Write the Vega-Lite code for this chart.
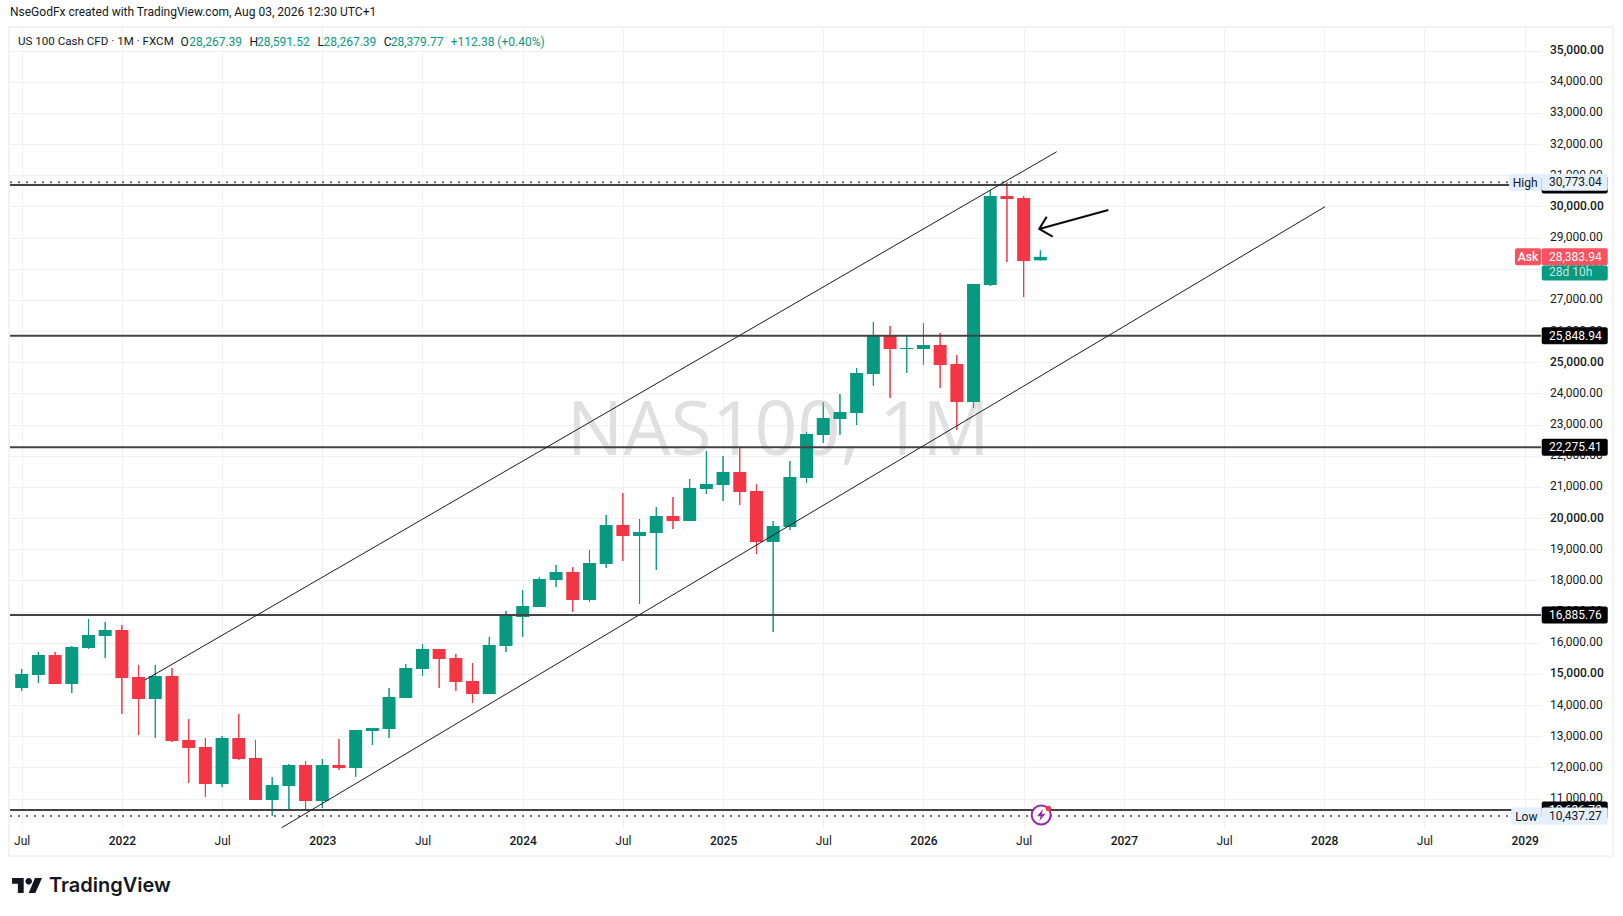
{
  "$schema": "https://vega.github.io/schema/vega-lite/v6.json",
  "width": 1531,
  "height": 800,
  "autosize": "none",
  "padding": {"left": 10, "top": 28, "right": 82, "bottom": 88},
  "background": "#ffffff",
  "title": {"text": "NseGodFx created with TradingView.com, Aug 03, 2026 12:30 UTC+1", "anchor": "start", "frame": "group", "offset": 7, "dx": 0, "font": "Roboto", "fontSize": 12, "fontWeight": "normal", "color": "#131722"},
  "config": {"view": {"stroke": null}, "axis": {"title": null}},
  "datasets": {
    "candles": [
      {"month": "2021-07", "n": 0, "open": 14548, "high": 15157, "low": 14452, "close": 14997},
      {"month": "2021-08", "n": 1, "open": 14965, "high": 15703, "low": 14708, "close": 15606},
      {"month": "2021-09", "n": 2, "open": 15606, "high": 15703, "low": 14676, "close": 14676},
      {"month": "2021-10", "n": 3, "open": 14676, "high": 15895, "low": 14387, "close": 15863},
      {"month": "2021-11", "n": 4, "open": 15831, "high": 16761, "low": 15799, "close": 16248},
      {"month": "2021-12", "n": 5, "open": 16216, "high": 16665, "low": 15510, "close": 16409},
      {"month": "2022-01", "n": 6, "open": 16409, "high": 16569, "low": 13714, "close": 14869},
      {"month": "2022-02", "n": 7, "open": 14901, "high": 15286, "low": 13040, "close": 14195},
      {"month": "2022-03", "n": 8, "open": 14195, "high": 15286, "low": 12944, "close": 14933},
      {"month": "2022-04", "n": 9, "open": 14933, "high": 15189, "low": 12815, "close": 12847},
      {"month": "2022-05", "n": 10, "open": 12880, "high": 13553, "low": 11500, "close": 12623},
      {"month": "2022-06", "n": 11, "open": 12655, "high": 12944, "low": 11051, "close": 11468},
      {"month": "2022-07", "n": 12, "open": 11468, "high": 13008, "low": 11372, "close": 12944},
      {"month": "2022-08", "n": 13, "open": 12944, "high": 13714, "low": 12238, "close": 12270},
      {"month": "2022-09", "n": 14, "open": 12302, "high": 12880, "low": 10955, "close": 10955},
      {"month": "2022-10", "n": 15, "open": 10955, "high": 11692, "low": 10441, "close": 11436},
      {"month": "2022-11", "n": 16, "open": 11404, "high": 12110, "low": 10602, "close": 12078},
      {"month": "2022-12", "n": 17, "open": 12078, "high": 12206, "low": 10634, "close": 10923},
      {"month": "2023-01", "n": 18, "open": 10923, "high": 12270, "low": 10698, "close": 12078},
      {"month": "2023-02", "n": 19, "open": 12078, "high": 12912, "low": 11917, "close": 11981},
      {"month": "2023-03", "n": 20, "open": 11981, "high": 13200, "low": 11692, "close": 13200},
      {"month": "2023-04", "n": 21, "open": 13168, "high": 13264, "low": 12719, "close": 13264},
      {"month": "2023-05", "n": 22, "open": 13232, "high": 14548, "low": 12944, "close": 14259},
      {"month": "2023-06", "n": 23, "open": 14227, "high": 15318, "low": 14227, "close": 15189},
      {"month": "2023-07", "n": 24, "open": 15157, "high": 15959, "low": 14933, "close": 15799},
      {"month": "2023-08", "n": 25, "open": 15799, "high": 15799, "low": 14548, "close": 15478},
      {"month": "2023-09", "n": 26, "open": 15510, "high": 15639, "low": 14452, "close": 14740},
      {"month": "2023-10", "n": 27, "open": 14772, "high": 15350, "low": 14067, "close": 14355},
      {"month": "2023-11", "n": 28, "open": 14355, "high": 16184, "low": 14355, "close": 15927},
      {"month": "2023-12", "n": 29, "open": 15895, "high": 17018, "low": 15702, "close": 16857},
      {"month": "2024-01", "n": 30, "open": 16825, "high": 17691, "low": 16184, "close": 17178},
      {"month": "2024-02", "n": 31, "open": 17146, "high": 18108, "low": 17146, "close": 18044},
      {"month": "2024-03", "n": 32, "open": 18012, "high": 18493, "low": 17788, "close": 18269},
      {"month": "2024-04", "n": 33, "open": 18269, "high": 18429, "low": 16986, "close": 17371},
      {"month": "2024-05", "n": 34, "open": 17371, "high": 18975, "low": 17306, "close": 18558},
      {"month": "2024-06", "n": 35, "open": 18526, "high": 20098, "low": 18397, "close": 19777},
      {"month": "2024-07", "n": 36, "open": 19777, "high": 20803, "low": 18622, "close": 19424},
      {"month": "2024-08", "n": 37, "open": 19424, "high": 19969, "low": 17242, "close": 19552},
      {"month": "2024-09", "n": 38, "open": 19520, "high": 20354, "low": 18333, "close": 20065},
      {"month": "2024-10", "n": 39, "open": 20065, "high": 20675, "low": 19648, "close": 19905},
      {"month": "2024-11", "n": 40, "open": 19905, "high": 21253, "low": 19905, "close": 20964},
      {"month": "2024-12", "n": 41, "open": 20932, "high": 22151, "low": 20771, "close": 21092},
      {"month": "2025-01", "n": 42, "open": 21060, "high": 21990, "low": 20547, "close": 21477},
      {"month": "2025-02", "n": 43, "open": 21477, "high": 22247, "low": 20418, "close": 20835},
      {"month": "2025-03", "n": 44, "open": 20868, "high": 21092, "low": 18846, "close": 19231},
      {"month": "2025-04", "n": 45, "open": 19231, "high": 19905, "low": 16344, "close": 19745},
      {"month": "2025-05", "n": 46, "open": 19713, "high": 21830, "low": 19616, "close": 21317},
      {"month": "2025-06", "n": 47, "open": 21285, "high": 22760, "low": 21124, "close": 22696},
      {"month": "2025-07", "n": 48, "open": 22665, "high": 23724, "low": 22408, "close": 23210},
      {"month": "2025-08", "n": 49, "open": 23178, "high": 23980, "low": 22665, "close": 23402},
      {"month": "2025-09", "n": 50, "open": 23370, "high": 24814, "low": 22985, "close": 24654},
      {"month": "2025-10", "n": 51, "open": 24622, "high": 26290, "low": 24237, "close": 25873},
      {"month": "2025-11", "n": 52, "open": 25873, "high": 26162, "low": 23852, "close": 25424},
      {"month": "2025-12", "n": 53, "open": 25424, "high": 25841, "low": 24654, "close": 25456},
      {"month": "2026-01", "n": 54, "open": 25424, "high": 26258, "low": 24910, "close": 25552},
      {"month": "2026-02", "n": 55, "open": 25552, "high": 25937, "low": 24172, "close": 24910},
      {"month": "2026-03", "n": 56, "open": 24942, "high": 25231, "low": 22825, "close": 23723},
      {"month": "2026-04", "n": 57, "open": 23723, "high": 27509, "low": 23531, "close": 27509},
      {"month": "2026-05", "n": 58, "open": 27477, "high": 30525, "low": 27445, "close": 30332},
      {"month": "2026-06", "n": 59, "open": 30332, "high": 30773.04, "low": 28215, "close": 30236},
      {"month": "2026-07", "n": 60, "open": 30268, "high": 30332, "low": 27092, "close": 28247},
      {"month": "2026-08", "n": 61, "open": 28267.39, "high": 28591.52, "low": 28267.39, "close": 28379.77}
    ],
    "channel": [
      {"line": "upper", "n": 7.38, "price": 14804},
      {"line": "upper", "n": 61.98, "price": 31753},
      {"line": "lower", "n": 15.57, "price": 10066},
      {"line": "lower", "n": 78.05, "price": 29989}
    ],
    "arrow": [
      {"part": "shaft", "step": 1, "n": 65.07, "price": 29883},
      {"part": "shaft", "step": 2, "n": 60.93, "price": 29274},
      {"part": "head", "step": 1, "n": 61.38, "price": 29668},
      {"part": "head", "step": 2, "n": 60.93, "price": 29274},
      {"part": "head", "step": 3, "n": 61.74, "price": 29026}
    ],
    "levels": [
      {"price": 30685},
      {"price": 25848.94},
      {"price": 22275.41},
      {"price": 16885.76},
      {"price": 10636.72}
    ],
    "extremes": [
      {"name": "High", "price": 30773.04},
      {"name": "Low", "price": 10437.27}
    ],
    "tags": [
      {"kind": "level", "price": 30685, "label": "30,685.00"},
      {"kind": "level", "price": 25848.94, "label": "25,848.94"},
      {"kind": "level", "price": 22275.41, "label": "22,275.41"},
      {"kind": "level", "price": 16885.76, "label": "16,885.76"},
      {"kind": "level", "price": 10636.72, "label": "10,636.72"},
      {"kind": "extreme", "price": 30773.04, "label": "30,773.04"},
      {"kind": "extreme", "price": 10437.27, "label": "10,437.27"},
      {"kind": "ask", "price": 28383.94, "label": "28,383.94"}
    ],
    "legend": [
      {"part": "name", "n": -0.22, "text": "US 100 Cash CFD · 1M · FXCM"},
      {"part": "ohlc", "n": 9.51, "text": "O"},
      {"part": "value", "n": 10.04, "text": "28,267.39"},
      {"part": "ohlc", "n": 13.64, "text": "H"},
      {"part": "value", "n": 14.09, "text": "28,591.52"},
      {"part": "ohlc", "n": 17.72, "text": "L"},
      {"part": "value", "n": 18.08, "text": "28,267.39"},
      {"part": "ohlc", "n": 21.68, "text": "C"},
      {"part": "value", "n": 22.1, "text": "28,379.77"},
      {"part": "value", "n": 25.69, "text": "+112.38 (+0.40%)"}
    ]
  },
  "layer": [
    {
      "data": {"name": "candles"},
      "mark": {"type": "rule", "strokeWidth": 1},
      "encoding": {
        "x": {
          "field": "n",
          "type": "quantitative",
          "scale": {"domain": [-0.7, 90.98], "nice": false, "zero": false, "padding": 0},
          "axis": {
            "title": null,
            "values": [0, 6, 12, 18, 24, 30, 36, 42, 48, 54, 60, 66, 72, 78, 84, 90],
            "tickCount": 40,
            "labelExpr": "datum.value % 12 == 0 ? 'Jul' : '' + (2022 + (datum.value - 6) / 12)",
            "labelFontWeight": {"condition": {"test": "datum.value % 12 == 6", "value": 500}, "value": "normal"},
            "labelFont": "Roboto",
            "labelFontSize": 12,
            "labelColor": "#131722",
            "labelPadding": 7,
            "labelOverlap": false,
            "labelBound": false,
            "labelFlush": false,
            "domain": false,
            "ticks": false,
            "tickSize": 0,
            "grid": true,
            "gridColor": "#f0f0f0",
            "gridWidth": 1
          }
        },
        "y": {
          "field": "low",
          "type": "quantitative",
          "scale": {"domain": [10056, 35722], "nice": false, "zero": false},
          "axis": {
            "title": null,
            "orient": "right",
            "values": [11000, 12000, 13000, 14000, 15000, 16000, 17000, 18000, 19000, 20000, 21000, 22000, 23000, 24000, 25000, 26000, 27000, 28000, 29000, 30000, 31000, 32000, 33000, 34000, 35000],
            "tickCount": 40,
            "format": ",.2f",
            "labelFontWeight": {"condition": {"test": "datum.value % 5000 == 0", "value": 500}, "value": "normal"},
            "labelFont": "Roboto",
            "labelFontSize": 12,
            "labelColor": "#131722",
            "labelAlign": "left",
            "labelPadding": 8.5,
            "labelOffset": -1,
            "labelOverlap": false,
            "labelBound": false,
            "labelFlush": false,
            "domain": false,
            "ticks": false,
            "tickSize": 0,
            "grid": true,
            "gridColor": "#f0f0f0",
            "gridWidth": 1
          }
        },
        "y2": {"field": "high"},
        "color": {"condition": {"test": "datum.close >= datum.open", "value": "#089981"}, "value": "#f23645"}
      }
    },
    {
      "data": {"values": [{"part": "frame"}]},
      "mark": {"type": "rect", "fill": null, "stroke": "#f3f3f3", "strokeWidth": 2},
      "encoding": {
        "x": {"datum": -0.76, "type": "quantitative"},
        "x2": {"datum": 95.3},
        "y": {"datum": 35757, "type": "quantitative"},
        "y2": {"datum": 9147}
      }
    },
    {
      "data": {"values": [{"text": "NAS100, 1M"}]},
      "mark": {"type": "text", "font": "Open Sans", "fontSize": 75, "color": "#e0e0e0", "align": "center", "baseline": "alphabetic"},
      "encoding": {
        "x": {"datum": 45.3, "type": "quantitative"},
        "y": {"datum": 22023, "type": "quantitative"},
        "text": {"field": "text"}
      }
    },
    {
      "data": {"name": "candles"},
      "mark": {"type": "rule", "strokeWidth": 1},
      "encoding": {
        "x": {"field": "n", "type": "quantitative"},
        "y": {"field": "low", "type": "quantitative"},
        "y2": {"field": "high"},
        "color": {"condition": {"test": "datum.close >= datum.open", "value": "#089981"}, "value": "#f23645"}
      }
    },
    {
      "data": {"name": "candles"},
      "mark": {"type": "bar", "size": 13},
      "encoding": {
        "x": {"field": "n", "type": "quantitative"},
        "y": {"field": "open", "type": "quantitative"},
        "y2": {"field": "close"},
        "color": {"condition": {"test": "datum.close >= datum.open", "value": "#089981"}, "value": "#f23645"}
      }
    },
    {
      "data": {"name": "levels"},
      "mark": {"type": "rule", "color": "#434343", "strokeWidth": 2},
      "encoding": {
        "y": {"field": "price", "type": "quantitative"}
      }
    },
    {
      "data": {"name": "extremes"},
      "mark": {"type": "rule", "color": "#707070", "strokeWidth": 2, "strokeDash": [2, 6]},
      "encoding": {
        "x": {"datum": -0.7, "type": "quantitative"},
        "x2": {"datum": 89},
        "y": {"field": "price", "type": "quantitative"}
      }
    },
    {
      "data": {"name": "channel"},
      "mark": {"type": "line", "color": "#1c1c1c", "strokeWidth": 1},
      "encoding": {
        "x": {"field": "n", "type": "quantitative"},
        "y": {"field": "price", "type": "quantitative"},
        "detail": {"field": "line"}
      }
    },
    {
      "data": {"name": "arrow"},
      "mark": {"type": "line", "color": "#0a0a0a", "strokeWidth": 2},
      "encoding": {
        "x": {"field": "n", "type": "quantitative"},
        "y": {"field": "price", "type": "quantitative"},
        "order": {"field": "step"},
        "detail": {"field": "part"}
      }
    },
    {
      "data": {"values": [{"event": "earnings"}]},
      "mark": {"type": "point", "shape": "circle", "size": 361, "fill": "#ffffff", "stroke": "#9c27b0", "strokeWidth": 2, "opacity": 1},
      "encoding": {
        "x": {"datum": 61.05, "type": "quantitative"},
        "y": {"datum": 10473, "type": "quantitative"}
      }
    },
    {
      "data": {"values": [{"event": "earnings"}]},
      "mark": {"type": "point", "shape": "M.3 -1L-.7 .2H-.1L-.3 1L.7 -.2H.1Z", "size": 144, "filled": true, "color": "#9c27b0", "opacity": 1},
      "encoding": {
        "x": {"datum": 61.05, "type": "quantitative"},
        "y": {"datum": 10473, "type": "quantitative"}
      }
    },
    {
      "data": {"values": [{"event": "earnings"}]},
      "mark": {"type": "point", "shape": "circle", "size": 30, "filled": true, "color": "#f23645", "opacity": 1},
      "encoding": {
        "x": {"datum": 61.48, "type": "quantitative"},
        "y": {"datum": 10682, "type": "quantitative"}
      }
    },
    {
      "data": {"name": "tags"},
      "mark": {"type": "rect", "width": 66, "height": 17, "cornerRadius": 2},
      "encoding": {
        "x": {"datum": 93, "type": "quantitative"},
        "y": {"field": "price", "type": "quantitative"},
        "color": {"field": "kind", "type": "nominal", "legend": null, "scale": {"domain": ["level", "extreme", "ask"], "range": ["#000000", "#e3effd", "#f7525f"]}}
      }
    },
    {
      "data": {"values": [{"label": "28d 10h"}]},
      "mark": {"type": "rect", "width": 66, "height": 15, "cornerRadius": 2, "color": "#089981"},
      "encoding": {
        "x": {"datum": 93, "type": "quantitative"},
        "y": {"datum": 27862, "type": "quantitative"}
      }
    },
    {
      "data": {"values": [{"label": "High"}]},
      "mark": {"type": "rect", "width": 32, "height": 17, "cornerRadius": 2, "color": "#e3effd"},
      "encoding": {
        "x": {"datum": 90.03, "type": "quantitative"},
        "y": {"datum": 30773.04, "type": "quantitative"}
      }
    },
    {
      "data": {"values": [{"label": "Low"}]},
      "mark": {"type": "rect", "width": 30, "height": 17, "cornerRadius": 2, "color": "#e3effd"},
      "encoding": {
        "x": {"datum": 90.1, "type": "quantitative"},
        "y": {"datum": 10437.27, "type": "quantitative"}
      }
    },
    {
      "data": {"values": [{"label": "Ask"}]},
      "mark": {"type": "rect", "width": 26, "height": 17, "cornerRadius": 2, "color": "#f7525f"},
      "encoding": {
        "x": {"datum": 90.2, "type": "quantitative"},
        "y": {"datum": 28383.94, "type": "quantitative"}
      }
    },
    {
      "data": {"name": "tags"},
      "mark": {"type": "text", "font": "Roboto", "fontSize": 12, "align": "left", "baseline": "middle", "dy": 0},
      "encoding": {
        "x": {"datum": 91.46, "type": "quantitative"},
        "y": {"field": "price", "type": "quantitative"},
        "text": {"field": "label"},
        "color": {"condition": {"test": "datum.kind == 'extreme'", "value": "#131722"}, "value": "#ffffff"},
        "fontWeight": {"condition": {"test": "datum.kind == 'extreme'", "value": "normal"}, "value": 500}
      }
    },
    {
      "data": {"values": [{"label": "28d 10h"}]},
      "mark": {"type": "text", "font": "Roboto", "fontSize": 12, "align": "left", "baseline": "middle", "color": "#c4e6df", "dy": -1},
      "encoding": {
        "x": {"datum": 91.46, "type": "quantitative"},
        "y": {"datum": 27862, "type": "quantitative"},
        "text": {"field": "label"}
      }
    },
    {
      "data": {"values": [{"label": "High"}]},
      "mark": {"type": "text", "font": "Roboto", "fontSize": 12, "align": "center", "baseline": "middle", "color": "#131722", "dy": 0.5},
      "encoding": {
        "x": {"datum": 90.03, "type": "quantitative"},
        "y": {"datum": 30773.04, "type": "quantitative"},
        "text": {"field": "label"}
      }
    },
    {
      "data": {"values": [{"label": "Low"}]},
      "mark": {"type": "text", "font": "Roboto", "fontSize": 12, "align": "center", "baseline": "middle", "color": "#131722", "dy": 0.5},
      "encoding": {
        "x": {"datum": 90.1, "type": "quantitative"},
        "y": {"datum": 10437.27, "type": "quantitative"},
        "text": {"field": "label"}
      }
    },
    {
      "data": {"values": [{"label": "Ask"}]},
      "mark": {"type": "text", "font": "Roboto", "fontSize": 12, "align": "center", "baseline": "middle", "color": "#ffffff", "fontWeight": 500, "dy": 0.5},
      "encoding": {
        "x": {"datum": 90.2, "type": "quantitative"},
        "y": {"datum": 28383.94, "type": "quantitative"},
        "text": {"field": "label"}
      }
    },
    {
      "data": {"name": "legend"},
      "mark": {"type": "text", "font": "Roboto", "align": "left", "baseline": "middle"},
      "encoding": {
        "x": {"field": "n", "type": "quantitative"},
        "y": {"datum": 35282, "type": "quantitative"},
        "text": {"field": "text"},
        "size": {"condition": {"test": "datum.part == 'name'", "value": 11.6}, "value": 12},
        "color": {"condition": {"test": "datum.part == 'value'", "value": "#089981"}, "value": "#131722"}
      }
    },
    {
      "data": {"values": [{"brand": "TradingView"}]},
      "mark": {"type": "point", "shape": "M-.222 .5H-.611V-.111H-1V-.5H-.222ZM.556 .5H.111L.528 -.5H1ZM-.111 -.278A.222 .222 0 1 1 .333 -.278A.222 .222 0 1 1 -.111 -.278Z", "size": 900, "filled": true, "color": "#131722", "opacity": 1},
      "encoding": {
        "x": {"datum": 0.32, "type": "quantitative"},
        "y": {"datum": 8211, "type": "quantitative"}
      }
    },
    {
      "data": {"values": [{"brand": "TradingView"}]},
      "mark": {"type": "text", "font": "Inter", "fontSize": 20, "fontWeight": 600, "align": "left", "baseline": "middle", "color": "#131722"},
      "encoding": {
        "x": {"datum": 1.63, "type": "quantitative"},
        "y": {"datum": 8195, "type": "quantitative"},
        "text": {"field": "brand"}
      }
    }
  ]
}
